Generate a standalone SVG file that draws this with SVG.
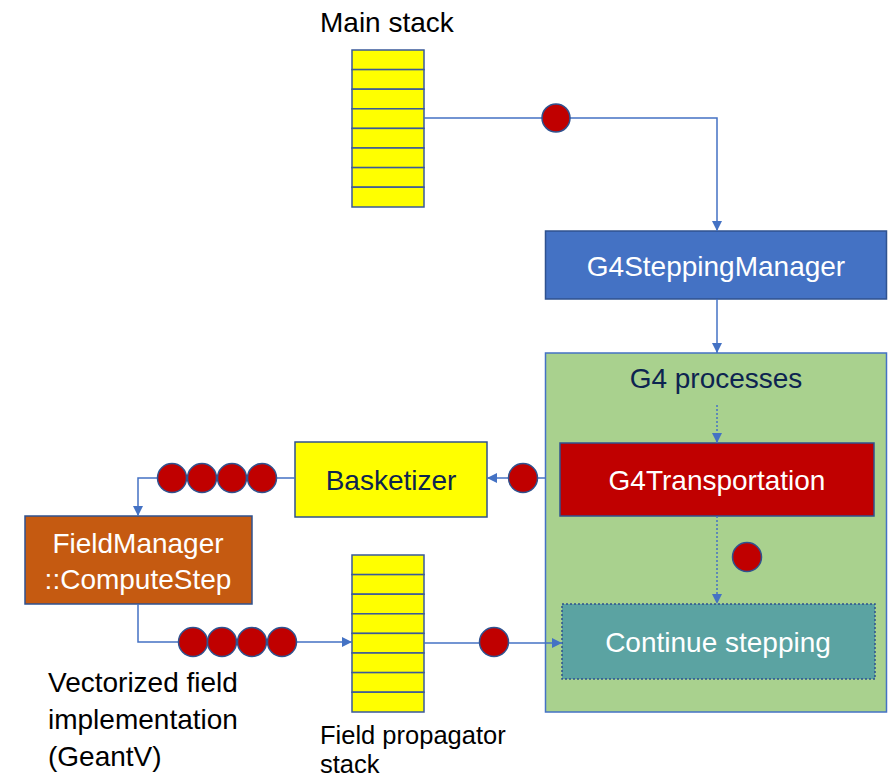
<svg xmlns="http://www.w3.org/2000/svg" width="892" height="779" viewBox="0 0 892 779">
<defs>
<style>
.t{font-family:"Liberation Sans",Arial,sans-serif;font-size:28px}
.s{font-size:25.5px}
.w{fill:#FFFFFF}
.k{fill:#000000}
.n{fill:#0D2450}
.row{fill:#FFFF00;stroke:#3A5A9A;stroke-width:1.5}
.ball{fill:#C00000;stroke:#2F528F;stroke-width:1.5}
.ln{fill:none;stroke:#4472C4;stroke-width:1.5}
.dot{fill:none;stroke:#4472C4;stroke-width:1.5;stroke-dasharray:2 2}
</style>
<marker id="ah" viewBox="0 0 10 10" refX="10" refY="5" markerWidth="10" markerHeight="10" markerUnits="userSpaceOnUse" orient="auto"><path d="M0,0 L10,5 L0,10 z" fill="#4472C4"/></marker>
</defs>
<rect width="892" height="779" fill="#FFFFFF"/>

<g id="main-stack">
<text class="t k" x="320" y="32">Main stack</text>
<rect class="row" x="352" y="50" width="72" height="19.6"/>
<rect class="row" x="352" y="69.6" width="72" height="19.6"/>
<rect class="row" x="352" y="89.2" width="72" height="19.6"/>
<rect class="row" x="352" y="108.8" width="72" height="19.6"/>
<rect class="row" x="352" y="128.4" width="72" height="19.6"/>
<rect class="row" x="352" y="148" width="72" height="19.6"/>
<rect class="row" x="352" y="167.6" width="72" height="19.6"/>
<rect class="row" x="352" y="187.2" width="72" height="19.8"/>
</g>

<g id="processes">
<rect x="545.5" y="353" width="341" height="359" fill="#A9D18E" stroke="#4472C4" stroke-width="1.5"/>
<text class="t n" x="716" y="388" text-anchor="middle">G4 processes</text>
</g>

<g id="stepping-manager">
<rect x="545.5" y="231" width="341" height="68" fill="#4472C4" stroke="#2F528F" stroke-width="1.5"/>
<text class="t w" x="716" y="276" text-anchor="middle">G4SteppingManager</text>
</g>

<g id="transportation">
<rect x="560" y="443" width="314" height="73" fill="#C00000" stroke="#2F528F" stroke-width="1.5"/>
<text class="t w" x="717" y="490" text-anchor="middle">G4Transportation</text>
</g>

<g id="continue-stepping">
<rect x="562" y="604" width="313" height="75" fill="#5BA3A2" stroke="#2F528F" stroke-width="1.5" stroke-dasharray="2 2"/>
<text class="t w" x="718" y="652" text-anchor="middle">Continue stepping</text>
</g>

<g id="basketizer">
<rect x="295" y="442" width="192" height="75" fill="#FFFF00" stroke="#2F528F" stroke-width="1.5"/>
<text class="t n" x="391" y="490" text-anchor="middle">Basketizer</text>
</g>

<g id="field-manager">
<rect x="25" y="516" width="227" height="88" fill="#C55A11" stroke="#2F528F" stroke-width="1.5"/>
<text class="t w" x="138" y="553" text-anchor="middle">FieldManager</text>
<text class="t w" x="138" y="589" text-anchor="middle">::ComputeStep</text>
</g>

<g id="field-stack">
<rect class="row" x="352" y="555" width="72" height="19.6"/>
<rect class="row" x="352" y="574.6" width="72" height="19.6"/>
<rect class="row" x="352" y="594.2" width="72" height="19.6"/>
<rect class="row" x="352" y="613.8" width="72" height="19.6"/>
<rect class="row" x="352" y="633.4" width="72" height="19.6"/>
<rect class="row" x="352" y="653" width="72" height="19.6"/>
<rect class="row" x="352" y="672.6" width="72" height="19.6"/>
<rect class="row" x="352" y="692.2" width="72" height="19.8"/>
<text class="t s k" x="320" y="744">Field propagator</text>
<text class="t s k" x="320" y="773">stack</text>
</g>

<g id="vectorized-label">
<text class="t k" x="48" y="692">Vectorized field</text>
<text class="t k" x="48" y="729">implementation</text>
<text class="t k" x="48" y="766">(GeantV)</text>
</g>

<g id="connectors">
<path class="ln" d="M424,118 H717 V231" marker-end="url(#ah)"/>
<path class="ln" d="M717,299 V353" marker-end="url(#ah)"/>
<path class="dot" d="M717,405 V443" marker-end="url(#ah)"/>
<path class="dot" d="M717,516 V604" marker-end="url(#ah)"/>
<path class="ln" d="M545,478 H487" marker-end="url(#ah)"/>
<path class="ln" d="M295,478 H138 V516" marker-end="url(#ah)"/>
<path class="ln" d="M138,604 V642 H352" marker-end="url(#ah)"/>
<path class="ln" d="M424,643 H562" marker-end="url(#ah)"/>
</g>

<g id="tokens">
<circle class="ball" cx="556" cy="118" r="14"/>
<circle class="ball" cx="523" cy="478" r="14.5"/>
<circle class="ball" cx="747" cy="557" r="14.5"/>
<circle class="ball" cx="172" cy="478" r="14.5"/>
<circle class="ball" cx="202" cy="478" r="14.5"/>
<circle class="ball" cx="232" cy="478" r="14.5"/>
<circle class="ball" cx="262" cy="478" r="14.5"/>
<circle class="ball" cx="193" cy="642" r="14.5"/>
<circle class="ball" cx="222" cy="642" r="14.5"/>
<circle class="ball" cx="252" cy="642" r="14.5"/>
<circle class="ball" cx="282" cy="642" r="14.5"/>
<circle class="ball" cx="494" cy="642" r="14.5"/>
</g>
</svg>
